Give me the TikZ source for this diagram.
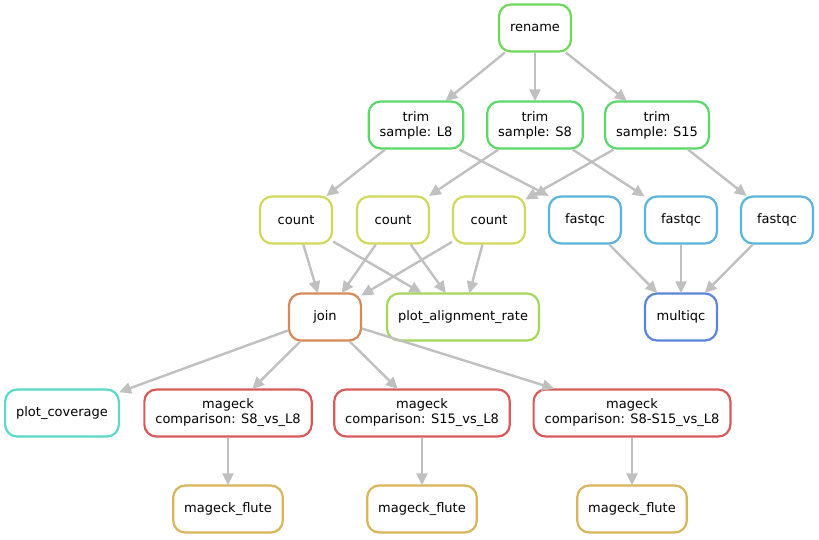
\documentclass[tikz,border=0pt]{standalone}
\usepackage{fontspec}
\setmainfont{DejaVu Sans}
\usetikzlibrary{arrows.meta}
\definecolor{cRename}{HTML}{6FD85A}
\definecolor{cTrim}{HTML}{5AD86A}
\definecolor{cCount}{HTML}{D2D85A}
\definecolor{cFastqc}{HTML}{5AB4D8}
\definecolor{cJoin}{HTML}{D8895A}
\definecolor{cPar}{HTML}{A5D85A}
\definecolor{cMulti}{HTML}{5A85D8}
\definecolor{cCov}{HTML}{5AD8C8}
\definecolor{cMageck}{HTML}{D85A5A}
\definecolor{cFlute}{HTML}{D8B45A}
\definecolor{cEdge}{HTML}{C0C0C0}
\begin{document}
\begin{tikzpicture}[x=1pt,y=-1pt,
  job/.style={draw, line width=2.2pt, rounded corners=12pt, fill=white,
    minimum width=72pt, minimum height=47pt, inner xsep=11pt, inner ysep=2pt,
    align=center, font=\fontsize{13}{15}\selectfont},
  link/.style={draw=cEdge, line width=2.4pt,
    -{Triangle[length=12pt,width=11pt,fill=cEdge]}, shorten >=-1pt}]
\useasboundingbox (0,0) rectangle (819,539);
\node[job,draw=cRename] (rename) at (535,28) {rename};
\node[job,draw=cTrim] (tL8) at (416,125) {trim\\sample: L8};
\node[job,draw=cTrim] (tS8) at (535,125) {trim\\sample: S8};
\node[job,draw=cTrim] (tS15) at (657,125) {trim\\sample: S15};
\node[job,draw=cCount] (c1) at (296,220) {count};
\node[job,draw=cCount] (c2) at (393,220) {count};
\node[job,draw=cCount] (c3) at (489,220) {count};
\node[job,draw=cFastqc] (f1) at (585,220) {fastqc};
\node[job,draw=cFastqc] (f2) at (681,220) {fastqc};
\node[job,draw=cFastqc] (f3) at (777,220) {fastqc};
\node[job,draw=cJoin] (join) at (325,317) {join};
\node[job,draw=cPar] (par) at (463,317) {plot\_alignment\_rate};
\node[job,draw=cMulti] (multi) at (681,317) {multiqc};
\node[job,draw=cCov] (cov) at (62,413) {plot\_coverage};
\node[job,draw=cMageck] (m1) at (228,413) {mageck\\comparison: S8\_vs\_L8};
\node[job,draw=cMageck] (m2) at (422,413) {mageck\\comparison: S15\_vs\_L8};
\node[job,draw=cMageck] (m3) at (632,413) {mageck\\comparison: S8-S15\_vs\_L8};
\node[job,draw=cFlute] (fl1) at (228,509) {mageck\_flute};
\node[job,draw=cFlute] (fl2) at (422,509) {mageck\_flute};
\node[job,draw=cFlute] (fl3) at (632,509) {mageck\_flute};
\path[link] (rename) -- (tL8);
\path[link] (rename) -- (tS8);
\path[link] (rename) -- (tS15);
\path[link] (tL8) -- (c1);
\path[link] (tL8.south east) ++(-5,0) coordinate (a1) (a1) -- (f1.north west);
\path[link] (tS8) -- (c2);
\path[link] (tS8) -- (f2);
\path[link] (tS15) -- (c3);
\path[link] (tS15) -- (f3);
\path[link] (c1) -- (join);
\path[link] (c1) -- (par);
\path[link] (c2) -- (join);
\path[link] (c2) -- (par);
\path[link] (c3) -- (join);
\path[link] (c3) -- (par);
\path[link] (f1) -- (multi);
\path[link] (f2) -- (multi);
\path[link] (f3) -- (multi);
\path[link] (join) -- (cov);
\path[link] (join) -- (m1);
\path[link] (join) -- (m2);
\path[link] (join) -- (m3);
\path[link] (m1) -- (fl1);
\path[link] (m2) -- (fl2);
\path[link] (m3) -- (fl3);
\end{tikzpicture}
\end{document}
